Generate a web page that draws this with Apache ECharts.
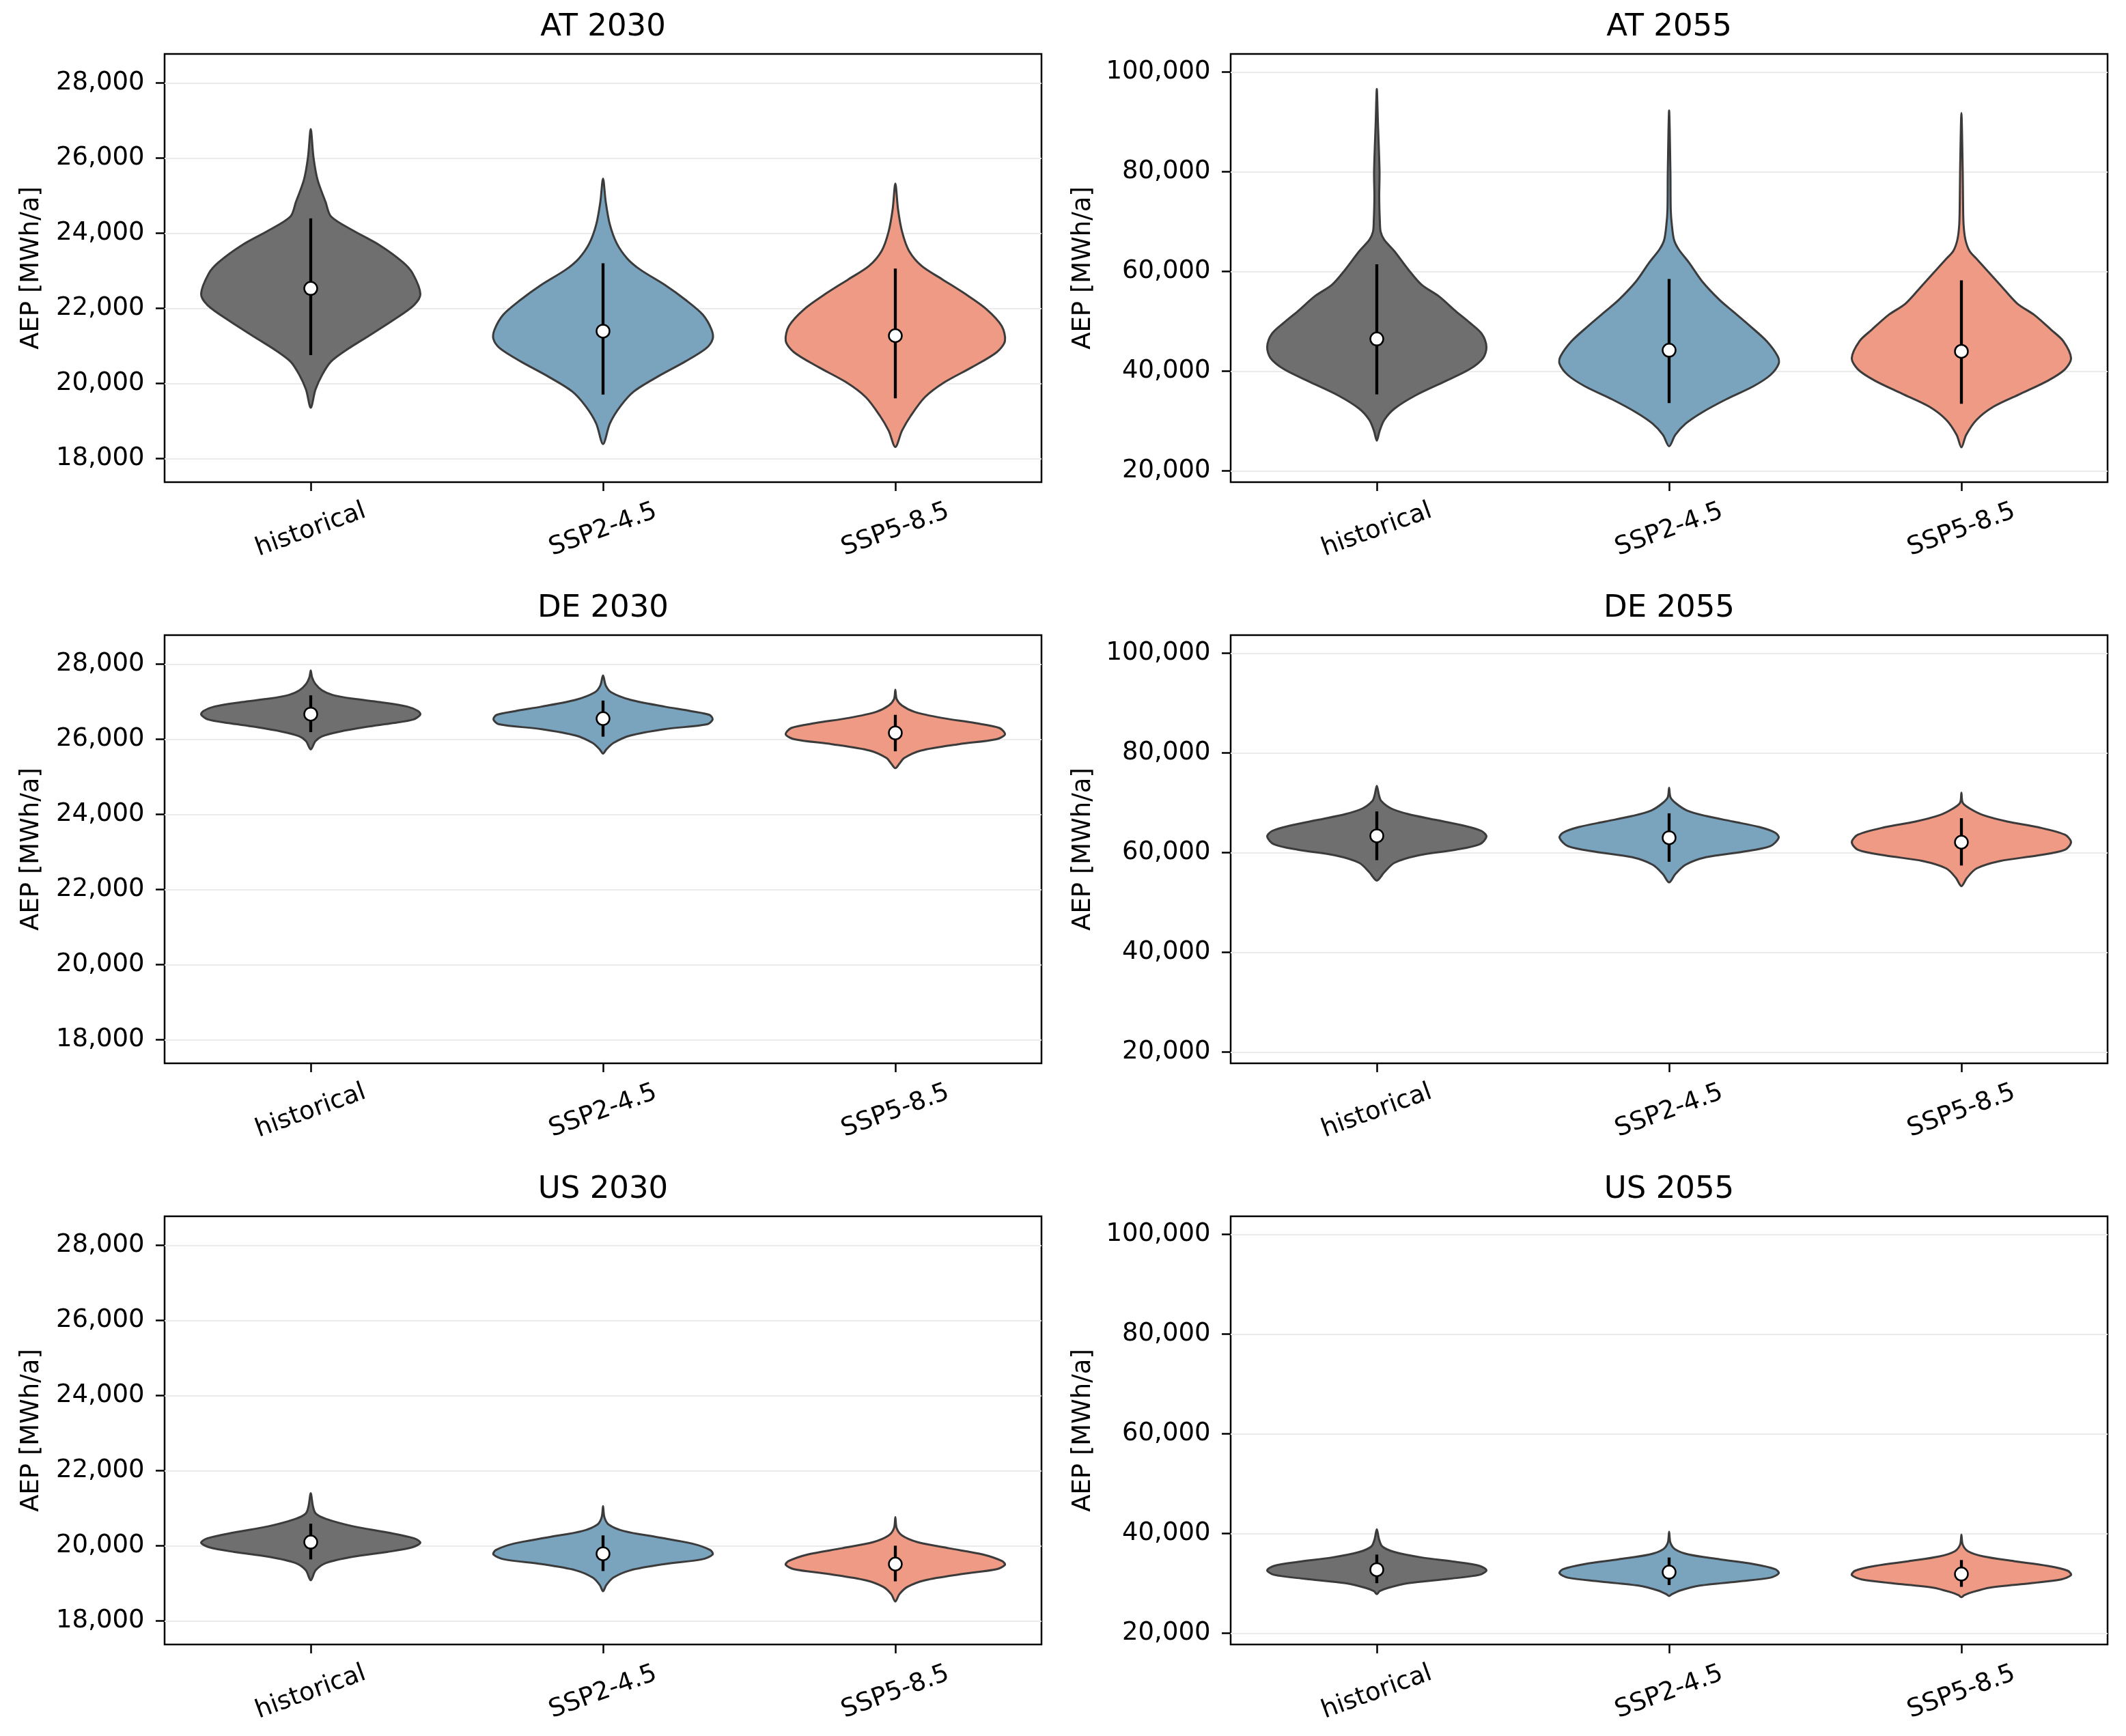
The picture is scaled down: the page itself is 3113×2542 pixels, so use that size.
<!DOCTYPE html>
<html><head><meta charset="utf-8">
<script src="https://cdn.jsdelivr.net/npm/echarts@6/dist/echarts.min.js"></script>
<style>html,body{margin:0;padding:0;background:#fff}#c{width:3113px;height:2542px}</style>
</head><body><div id="c"></div>
<script>
// ---------- data ----------
const scenarios = ['historical', 'SSP2-4.5', 'SSP5-8.5'];
const panelTitles = ['AT 2030', 'AT 2055', 'DE 2030', 'DE 2055', 'US 2030', 'US 2055'];
const ticks2030 = [18000, 20000, 22000, 24000, 26000, 28000];
const ticks2055 = [20000, 40000, 60000, 80000, 100000];

// violin outlines: [value, relative half width]
const AT2030_historical = [[26772,0],[26024,0.025],[25425,0.062],[24826,0.136],[24447,0.185],[24078,0.383],[23679,0.63],[23230,0.84],[22930,0.93],[22381,1.0],[22082,0.94],[21683,0.75],[21234,0.51],[20884,0.32],[20585,0.185],[20236,0.105],[19836,0.043],[19357,0]];
const AT2030_ssp245 = [[25455,0],[24826,0.025],[24228,0.0625],[23729,0.125],[23330,0.22],[23030,0.34],[22631,0.56],[22232,0.75],[21832,0.91],[21433,0.99],[21184,1.0],[20934,0.94],[20585,0.75],[20186,0.5],[19787,0.28],[19387,0.156],[18938,0.0625],[18389,0]];
const AT2030_ssp585 = [[25325,0],[24627,0.025],[24028,0.0625],[23529,0.125],[23130,0.24],[22780,0.425],[22381,0.64],[21982,0.83],[21533,0.97],[21134,1.0],[20834,0.925],[20435,0.7],[20036,0.45],[19637,0.27],[19138,0.14],[18739,0.06],[18309,0]];

const AT2055_historical = [[96613,0],[90000,0.01],[80000,0.025],[75000,0.022],[70000,0.028],[68000,0.035],[66360,0.068],[64100,0.16],[60340,0.29],[57330,0.41],[55070,0.565],[52060,0.72],[49800,0.845],[47540,0.957],[44910,1.0],[42650,0.97],[40390,0.845],[37760,0.6],[35130,0.35],[32490,0.16],[30230,0.068],[27980,0.025],[26100,0]];
const AT2055_ssp245 = [[92324,0],[80000,0.012],[72380,0.015],[69370,0.025],[66360,0.045],[64480,0.087],[61850,0.18],[58080,0.30],[54320,0.46],[52060,0.58],[49050,0.74],[46040,0.89],[43030,0.99],[41520,1.0],[39270,0.925],[37010,0.77],[34370,0.52],[31740,0.30],[29480,0.15],[27220,0.056],[24960,0]];
const AT2055_ssp585 = [[91797,0],[80000,0.012],[73885,0.015],[69370,0.02],[66360,0.037],[64100,0.075],[62600,0.137],[60340,0.23],[57330,0.354],[53570,0.51],[51310,0.665],[48300,0.82],[46040,0.93],[42650,1.0],[40390,0.944],[38130,0.79],[35500,0.54],[32870,0.29],[30230,0.137],[27220,0.043],[24740,0]];

const DE2030_historical = [[27830,0],[27650,0.012],[27470,0.043],[27300,0.105],[27180,0.2],[27080,0.385],[26990,0.63],[26870,0.88],[26750,0.98],[26660,1.0],[26530,0.94],[26430,0.75],[26330,0.51],[26200,0.26],[26080,0.105],[25950,0.043],[25730,0]];
const DE2030_ssp245 = [[27700,0],[27430,0.025],[27250,0.075],[27050,0.25],[26870,0.56],[26750,0.8],[26650,0.97],[26530,1.0],[26400,0.95],[26270,0.56],[26100,0.25],[25900,0.094],[25730,0.03],[25620,0]];
const DE2030_ssp585 = [[27320,0],[27070,0.012],[26900,0.06],[26730,0.175],[26570,0.42],[26430,0.73],[26300,0.95],[26130,1.0],[26000,0.92],[25870,0.58],[25700,0.235],[25500,0.08],[25350,0.037],[25230,0]];

const DE2055_historical = [[73410,0],[71530,0.02],[70400,0.04],[68890,0.13],[67760,0.285],[66630,0.53],[65500,0.78],[64370,0.955],[63240,1.0],[61730,0.94],[60600,0.72],[59470,0.38],[57970,0.16],[56080,0.068],[54420,0]];
const DE2055_ssp245 = [[73030,0],[71150,0.012],[70020,0.056],[68510,0.16],[67380,0.335],[66250,0.585],[65120,0.83],[64000,0.97],[63010,1.0],[61350,0.925],[60220,0.68],[59090,0.335],[57590,0.15],[55700,0.056],[54050,0]];
const DE2055_ssp585 = [[72050,0],[70020,0.012],[68890,0.075],[67530,0.2],[66250,0.42],[65120,0.70],[63620,0.944],[62110,1.0],[60600,0.944],[59470,0.70],[58340,0.354],[56840,0.137],[54950,0.05],[53300,0]];

const US2030_historical = [[21402,0],[21060,0.02],[20864,0.045],[20718,0.14],[20522,0.385],[20356,0.70],[20200,0.945],[20082,1.0],[19965,0.93],[19838,0.70],[19711,0.385],[19545,0.14],[19350,0.045],[19085,0]];
const US2030_ssp245 = [[21060,0],[20767,0.012],[20571,0.05],[20395,0.19],[20229,0.5],[20063,0.81],[19887,0.98],[19770,1.0],[19640,0.9],[19515,0.56],[19350,0.25],[19155,0.094],[18958,0.03],[18792,0]];
const US2030_ssp585 = [[20767,0],[20473,0.012],[20278,0.06],[20102,0.2],[19936,0.49],[19770,0.80],[19594,0.975],[19496,1.0],[19378,0.925],[19251,0.61],[19085,0.27],[18909,0.11],[18714,0.037],[18518,0]];

const US2055_historical = [[40880,0],[38900,0.02],[37420,0.05],[36320,0.16],[35210,0.41],[34330,0.72],[33520,0.94],[32640,1.0],[31750,0.94],[30940,0.66],[30060,0.285],[29100,0.1],[28440,0.025],[27850,0]];
const US2055_ssp245 = [[40370,0],[38160,0.012],[36830,0.056],[35800,0.18],[34850,0.46],[33890,0.77],[32860,0.97],[32050,1.0],[31170,0.925],[30430,0.645],[29550,0.27],[28590,0.1],[27850,0.025],[27480,0]];
const US2055_ssp585 = [[39780,0],[37790,0.012],[36470,0.06],[35430,0.2],[34480,0.48],[33520,0.79],[32560,0.97],[31680,1.0],[30800,0.91],[30060,0.635],[29180,0.26],[28220,0.093],[27630,0.025],[27260,0]];

// medians and inner line ends (historical, SSP2-4.5, SSP5-8.5)
const AT2030_median = [22531, 21393, 21274];
const AT2030_low = [20755, 19707, 19607];
const AT2030_high = [24397, 23200, 23060];
const AT2055_median = [46490, 44230, 44000];
const AT2055_low = [35352, 33620, 33470];
const AT2055_high = [61467, 58530, 58230];
const DE2030_median = [26670, 26550, 26170];
const DE2030_low = [26190, 26070, 25680];
const DE2030_high = [27170, 27030, 26650];
const DE2055_median = [63390, 63010, 62110];
const DE2055_low = [58510, 58190, 57440];
const DE2055_high = [68290, 67910, 66930];
const US2030_median = [20100, 19790, 19515];
const US2030_low = [19640, 19330, 19056];
const US2030_high = [20590, 20278, 20004];
const US2055_median = [32780, 32270, 31900];
const US2055_low = [30060, 29690, 29330];
const US2055_high = [35800, 35210, 34700];

// ---------- assembly ----------
const panelProfiles = [
  [AT2030_historical, AT2030_ssp245, AT2030_ssp585],
  [AT2055_historical, AT2055_ssp245, AT2055_ssp585],
  [DE2030_historical, DE2030_ssp245, DE2030_ssp585],
  [DE2055_historical, DE2055_ssp245, DE2055_ssp585],
  [US2030_historical, US2030_ssp245, US2030_ssp585],
  [US2055_historical, US2055_ssp245, US2055_ssp585]
];
const panelMedians = [AT2030_median, AT2055_median, DE2030_median, DE2055_median, US2030_median, US2055_median];
const panelLows = [AT2030_low, AT2055_low, DE2030_low, DE2055_low, US2030_low, US2055_low];
const panelHighs = [AT2030_high, AT2055_high, DE2030_high, DE2055_high, US2030_high, US2055_high];

const COLORS = ['#6f6f6f', '#7aa3be', '#ef9a84'];
const FONT = 'DejaVu Sans';
const GRID_LEFT = [241, 1802];
const GRID_TOP = [79, 930, 1781];
const GRID_W = 1284, GRID_H = 627;
const YR = [[17375, 28772], [17765, 103650]];
const VW = 0.75;

const fmt = v => Math.round(v).toLocaleString('en-US');

const option = { animation: false, backgroundColor: '#fff', grid: [], xAxis: [], yAxis: [], series: [], graphic: [] };

for (let p = 0; p < 6; p++) {
  const row = Math.floor(p / 2), col = p % 2;
  const ticks = col === 0 ? ticks2030 : ticks2055;
  option.grid.push({ left: GRID_LEFT[col], top: GRID_TOP[row], width: GRID_W, height: GRID_H,
    show: true, borderColor: '#000', borderWidth: 2.5, backgroundColor: 'transparent', containLabel: false });
  option.xAxis.push({ type: 'category', gridIndex: p, data: scenarios, boundaryGap: true,
    axisLine: { show: false },
    axisTick: { show: true, alignWithLabel: true, length: 13, lineStyle: { color: '#000', width: 2.5 } },
    axisLabel: { interval: 0, rotate: 20, align: 'center', verticalAlign: 'middle', margin: 70,
      fontSize: 37, fontFamily: FONT, color: '#000' },
    splitLine: { show: false } });
  option.yAxis.push({ type: 'value', gridIndex: p, min: YR[col][0], max: YR[col][1],
    axisLine: { show: false },
    axisTick: { show: true, length: 13, customValues: ticks, lineStyle: { color: '#000', width: 2.5 } },
    axisLabel: { customValues: ticks, formatter: fmt, margin: 29.5, fontSize: 37, fontFamily: FONT, color: '#000' },
    splitLine: { show: true, lineStyle: { color: '#ebebeb', width: 2 } } });

  const profs = panelProfiles[p], meds = panelMedians[p], lows = panelLows[p], highs = panelHighs[p];
  option.series.push({
    type: 'custom', coordinateSystem: 'cartesian2d', xAxisIndex: p, yAxisIndex: p, silent: true,
    data: meds.map((m, i) => [i, m]),
    encode: { x: 0, y: 1 },
    renderItem: function (params, api) {
      const i = api.value(0);
      const prof = profs[i];
      const band = api.size([1, 0])[0];
      const hmax = band * VW / 2;
      const right = [], left = [];
      prof.forEach(function (d, k) {
        const c = api.coord([i, d[0]]);
        right.push([c[0] + d[1] * hmax, c[1]]);
        if (k > 0 && k < prof.length - 1) left.push([c[0] - d[1] * hmax, c[1]]);
      });
      const pts = right.concat(left.reverse());
      const cm = api.coord([i, meds[i]]);
      const cl = api.coord([i, lows[i]]);
      const ch = api.coord([i, highs[i]]);
      return { type: 'group', children: [
        { type: 'polygon', shape: { points: pts, smooth: 0.3 },
          style: { fill: COLORS[i], stroke: '#3b3b3b', lineWidth: 3, lineJoin: 'round' } },
        { type: 'line', shape: { x1: ch[0], y1: ch[1], x2: cl[0], y2: cl[1] },
          style: { stroke: '#000', lineWidth: 4.3 } },
        { type: 'circle', shape: { cx: cm[0], cy: cm[1], r: 9.5 },
          style: { fill: '#fff', stroke: '#000', lineWidth: 2.5 } }
      ] };
    }
  });

  option.graphic.push({ type: 'text', x: GRID_LEFT[col] + GRID_W / 2, y: GRID_TOP[row] - 39,
    style: { text: panelTitles[p], fontSize: 45, fontFamily: FONT, fill: '#000', align: 'center', verticalAlign: 'middle' } });
  option.graphic.push({ type: 'text', x: col === 0 ? 46 : 1586, y: GRID_TOP[row] + GRID_H / 2, rotation: Math.PI / 2,
    style: { text: 'AEP [MWh/a]', fontSize: 37, fontFamily: FONT, fill: '#000', align: 'center', verticalAlign: 'middle' } });
}

const chart = echarts.init(document.getElementById('c'), null, { renderer: 'canvas' });
chart.setOption(option);
</script></body></html>
